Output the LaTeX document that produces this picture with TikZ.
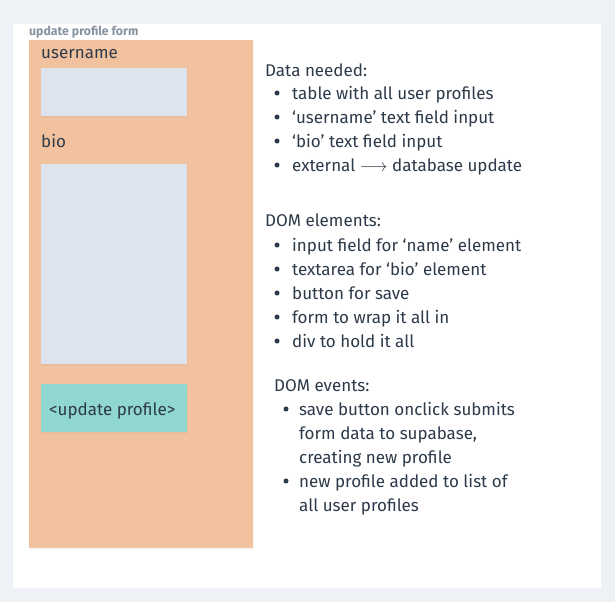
\documentclass[tikz,border=0pt]{standalone}
\usepackage{fontspec}
\setmainfont{Fira Sans}
\usetikzlibrary{shadows}
\definecolor{bgc}{HTML}{EEF2F6}
\definecolor{orangec}{HTML}{F2C29E}
\definecolor{inputc}{HTML}{DEE4ED}
\definecolor{tealc}{HTML}{8FD7CF}
\definecolor{txtc}{HTML}{2D3A4A}
\definecolor{titlec}{HTML}{8793A1}
\tikzset{
  lbl/.style={anchor=base west, inner sep=0pt, text=txtc, font=\fontsize{17}{20}\selectfont},
  field/.style={fill=inputc, draw=none, drop shadow={opacity=0.08, shadow xshift=1pt, shadow yshift=-1.5pt}},
  bul/.style={circle, fill=txtc, inner sep=0pt, minimum size=5pt},
}
\begin{document}
\begin{tikzpicture}[x=1pt,y=-1pt]
\fill[bgc] (0,0) rectangle (615,602);
\fill[white] (13,24) rectangle (601,588);
\node[anchor=base west, inner sep=0pt, text=titlec, font=\fontsize{12.3}{14}\selectfont\bfseries] (title) at (29,36) {update profile form};
\fill[orangec, drop shadow={opacity=0.06, shadow xshift=1pt, shadow yshift=-2pt}] (29,40) rectangle (253,548);
\node[lbl] (ulabel) at (41,59) {username};
\fill[field] (41,68) rectangle (187,116);
\node[lbl] (blabel) at (41,147) {bio};
\fill[field] (41,164) rectangle (187,364);
\fill[tealc, drop shadow={opacity=0.08, shadow xshift=1pt, shadow yshift=-1.5pt}] (41,384) rectangle (187,432);
\node[lbl] (btn) at (49,415) {<update profile>};

\node[lbl] (dn) at (265,77) {Data needed:};
\foreach \y/\t [count=\i] in {93/table with all user profiles, 117/‘username’ text field input, 141/‘bio’ text field input, 165/external $\longrightarrow$ database update}{
  \node[bul] (db\i) at (277,\y) {};
  \node[lbl] (dt\i) at (292,\y+6) {\t};
}
\node[lbl] (de) at (265,226) {DOM elements:};
\foreach \y/\t [count=\i] in {245/input field for ‘name’ element, 269/textarea for ‘bio’ element, 293/button for save, 317/form to wrap it all in, 341/div to hold it all}{
  \node[bul] (eb\i) at (277,\y) {};
  \node[lbl] (et\i) at (292,\y+6) {\t};
}
\node[lbl] (dv) at (274,391) {DOM events:};
\node[bul] (vb1) at (286,409) {};
\node[lbl] (vt1) at (299,415) {save button onclick submits};
\node[lbl] (vt2) at (299,439) {form data to supabase,};
\node[lbl] (vt3) at (299,463) {creating new profile};
\node[bul] (vb2) at (286,481) {};
\node[lbl] (vt4) at (299,487) {new profile added to list of};
\node[lbl] (vt5) at (299,511) {all user profiles};
\end{tikzpicture}
\end{document}
